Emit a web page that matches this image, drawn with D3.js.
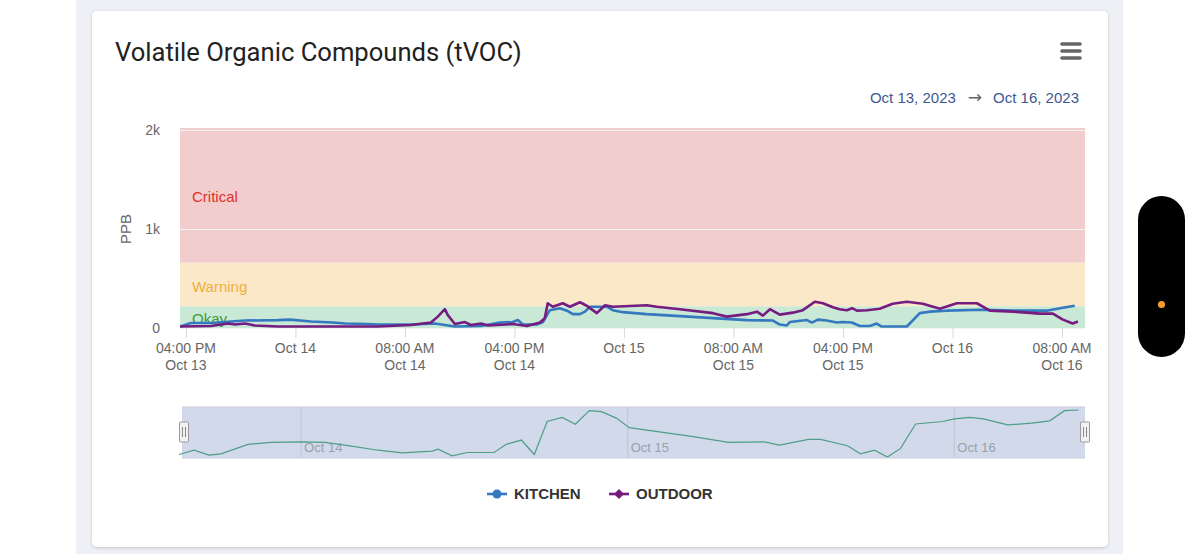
<!DOCTYPE html>
<html lang="en">
  <head>
    <meta charset="UTF-8" />
    <title>Volatile Organic Compounds (tVOC)</title>
    <script src="https://d3js.org/d3.v7.min.js"></script>
    <style>
      body {
        margin: 0;
        background: #fff;
        font-family: 'Liberation Sans', Arial, sans-serif;
      }
      svg {
        display: block;
      }
    </style>
  </head>
  <body>
    <div id="chart"></div>

    <script>
      // tVOC readings (ppb)
      const kitchen = [
        ['2023-10-13 15:34', 15], ['2023-10-13 16:22', 50], ['2023-10-13 17:50', 50],
        ['2023-10-13 20:19', 75], ['2023-10-13 22:43', 80], ['2023-10-13 23:36', 85],
        ['2023-10-14 01:08', 65], ['2023-10-14 02:44', 55], ['2023-10-14 03:37', 45],
        ['2023-10-14 05:13', 40], ['2023-10-14 06:01', 35], ['2023-10-14 08:26', 35],
        ['2023-10-14 10:11', 45], ['2023-10-14 10:55', 30], ['2023-10-14 11:39', 15],
        ['2023-10-14 13:33', 20], ['2023-10-14 14:56', 55], ['2023-10-14 15:53', 60],
        ['2023-10-14 16:15', 80], ['2023-10-14 16:37', 35], ['2023-10-14 17:38', 35],
        ['2023-10-14 18:05', 60], ['2023-10-14 18:35', 180], ['2023-10-14 19:19', 200],
        ['2023-10-14 19:50', 175], ['2023-10-14 20:16', 140], ['2023-10-14 20:47', 140],
        ['2023-10-14 21:09', 165], ['2023-10-14 21:31', 215], ['2023-10-14 22:45', 215],
        ['2023-10-14 23:11', 180], ['2023-10-14 23:55', 160], ['2023-10-15 01:40', 140],
        ['2023-10-15 04:05', 120], ['2023-10-15 06:30', 100], ['2023-10-15 08:59', 80],
        ['2023-10-15 10:53', 75], ['2023-10-15 11:23', 35], ['2023-10-15 11:54', 25],
        ['2023-10-15 12:07', 60], ['2023-10-15 13:22', 80], ['2023-10-15 13:44', 55],
        ['2023-10-15 14:10', 85], ['2023-10-15 14:49', 75], ['2023-10-15 15:33', 55],
        ['2023-10-15 16:00', 60], ['2023-10-15 16:39', 55], ['2023-10-15 17:14', 20],
        ['2023-10-15 17:58', 20], ['2023-10-15 18:28', 45], ['2023-10-15 18:50', 15],
        ['2023-10-15 20:40', 15], ['2023-10-15 21:37', 150], ['2023-10-15 22:21', 165],
        ['2023-10-15 23:35', 175], ['2023-10-16 02:00', 185], ['2023-10-16 04:25', 175],
        ['2023-10-16 06:53', 175], ['2023-10-16 08:04', 205], ['2023-10-16 08:56', 225]
      ];

      const outdoor = [
        ['2023-10-13 15:34', 15], ['2023-10-13 17:50', 20], ['2023-10-13 19:04', 45],
        ['2023-10-13 19:35', 35], ['2023-10-13 20:19', 45], ['2023-10-13 21:02', 25],
        ['2023-10-13 22:43', 15], ['2023-10-14 06:01', 15], ['2023-10-14 08:26', 30],
        ['2023-10-14 09:54', 55], ['2023-10-14 10:24', 115], ['2023-10-14 10:55', 190],
        ['2023-10-14 11:08', 130], ['2023-10-14 11:39', 40], ['2023-10-14 12:23', 60],
        ['2023-10-14 12:49', 30], ['2023-10-14 13:33', 45], ['2023-10-14 14:04', 25],
        ['2023-10-14 14:43', 30], ['2023-10-14 15:53', 40], ['2023-10-14 16:55', 20],
        ['2023-10-14 17:52', 55], ['2023-10-14 18:13', 100], ['2023-10-14 18:26', 250],
        ['2023-10-14 18:48', 215], ['2023-10-14 19:32', 250], ['2023-10-14 20:03', 215],
        ['2023-10-14 20:47', 260], ['2023-10-14 21:17', 225], ['2023-10-14 22:01', 150],
        ['2023-10-14 22:37', 230], ['2023-10-14 23:11', 215], ['2023-10-15 01:40', 230],
        ['2023-10-15 02:24', 215], ['2023-10-15 04:05', 190], ['2023-10-15 06:30', 150],
        ['2023-10-15 07:31', 115], ['2023-10-15 08:59', 140], ['2023-10-15 09:43', 165],
        ['2023-10-15 10:09', 125], ['2023-10-15 10:40', 190], ['2023-10-15 11:23', 135],
        ['2023-10-15 12:20', 155], ['2023-10-15 13:04', 180], ['2023-10-15 13:57', 265],
        ['2023-10-15 14:32', 250], ['2023-10-15 15:16', 210], ['2023-10-15 15:45', 190],
        ['2023-10-15 16:17', 180], ['2023-10-15 16:40', 200], ['2023-10-15 17:01', 175],
        ['2023-10-15 17:45', 180], ['2023-10-15 18:41', 195], ['2023-10-15 19:38', 245],
        ['2023-10-15 20:40', 265], ['2023-10-15 21:50', 245], ['2023-10-15 23:05', 195],
        ['2023-10-16 00:19', 250], ['2023-10-16 01:47', 250], ['2023-10-16 02:44', 175],
        ['2023-10-16 04:25', 165], ['2023-10-16 06:23', 145], ['2023-10-16 07:20', 145],
        ['2023-10-16 08:04', 85], ['2023-10-16 08:47', 45], ['2023-10-16 09:10', 65]
      ];

      // coarser series shown in the navigator strip
      const navigatorSeries = [
        ['2023-10-13 15:02', 27], ['2023-10-13 16:08', 46], ['2023-10-13 17:14', 24],
        ['2023-10-13 18:07', 30], ['2023-10-13 20:06', 72], ['2023-10-13 21:48', 81],
        ['2023-10-14 00:00', 83], ['2023-10-14 01:46', 81], ['2023-10-14 03:27', 66],
        ['2023-10-14 05:40', 46], ['2023-10-14 07:26', 34], ['2023-10-14 09:38', 42],
        ['2023-10-14 10:04', 51], ['2023-10-14 11:06', 21], ['2023-10-14 12:12', 36],
        ['2023-10-14 14:11', 36], ['2023-10-14 15:04', 72], ['2023-10-14 16:11', 91],
        ['2023-10-14 17:08', 27], ['2023-10-14 18:05', 173], ['2023-10-14 19:11', 191],
        ['2023-10-14 20:09', 161], ['2023-10-14 21:11', 221], ['2023-10-14 22:04', 217],
        ['2023-10-14 23:10', 188], ['2023-10-15 00:07', 146], ['2023-10-15 02:11', 128],
        ['2023-10-15 04:49', 106], ['2023-10-15 07:24', 81], ['2023-10-15 10:02', 83],
        ['2023-10-15 11:09', 69], ['2023-10-15 13:17', 94], ['2023-10-15 14:10', 94],
        ['2023-10-15 16:09', 66], ['2023-10-15 17:06', 30], ['2023-10-15 18:08', 46],
        ['2023-10-15 19:05', 16], ['2023-10-15 20:03', 54], ['2023-10-15 21:09', 162],
        ['2023-10-15 23:08', 173], ['2023-10-16 00:01', 185], ['2023-10-16 01:07', 191],
        ['2023-10-16 02:09', 185], ['2023-10-16 03:55', 158], ['2023-10-16 05:41', 166],
        ['2023-10-16 07:00', 176], ['2023-10-16 08:06', 221], ['2023-10-16 09:08', 224]
      ];

      // threshold bands (ppb)
      const bandNames = ['Okay', 'Warning', 'Critical'];
      const bandFrom = [0, 220, 660];
      const bandTo = [220, 660, 2200];
      const bandFill = ['#c9e8d6', '#fbe8c8', '#f2cdcd'];
      const bandText = ['#3f9a3f', '#efae3c', '#e0302c'];

      const yTicks = [0, 1000, 2000];
      const xTicks = [
        '2023-10-13 16:00', '2023-10-14 00:00', '2023-10-14 08:00',
        '2023-10-14 16:00', '2023-10-15 00:00', '2023-10-15 08:00',
        '2023-10-15 16:00', '2023-10-16 00:00', '2023-10-16 08:00'
      ];
      const navTicks = ['2023-10-14 00:00', '2023-10-15 00:00', '2023-10-16 00:00'];

      const parse = d3.timeParse('%Y-%m-%d %H:%M');

      const W = 1200, H = 554;
      const plot = { left: 180, right: 1085, top: 128, bottom: 328 };
      const nav = { left: 182, right: 1085, top: 407, bottom: 458 };

      const svg = d3.select('#chart').append('svg')
        .attr('width', W).attr('height', H);

      const defs = svg.append('defs');
      const shadow = defs.append('filter').attr('id', 'shadow')
        .attr('x', '-5%').attr('y', '-5%').attr('width', '110%').attr('height', '110%');
      shadow.append('feDropShadow').attr('dx', 0).attr('dy', 1)
        .attr('stdDeviation', 1.5).attr('flood-color', '#000').attr('flood-opacity', 0.18);

      // page background and card
      svg.append('rect').attr('x', 76).attr('y', 0).attr('width', 1047).attr('height', H)
        .attr('fill', '#eef0f5');
      svg.append('rect').attr('x', 92).attr('y', 11).attr('width', 1016).attr('height', 536)
        .attr('rx', 5).attr('fill', '#fff').attr('filter', 'url(#shadow)');

      // title, menu, date range
      svg.append('text').attr('x', 115).attr('y', 61)
        .style('font-family', 'Roboto, sans-serif').style('font-size', '25.6px')
        .attr('fill', '#222').text('Volatile Organic Compounds (tVOC)');

      [44, 51, 58].forEach(y => {
        svg.append('line').attr('x1', 1062).attr('x2', 1080).attr('y1', y).attr('y2', y)
          .attr('stroke', '#666').attr('stroke-width', 3.6).attr('stroke-linecap', 'round');
      });

      const range = svg.append('text').attr('x', 1079).attr('y', 103)
        .attr('text-anchor', 'end').style('font-size', '15px').attr('fill', '#3f5794');
      range.append('tspan').text('Oct 13, 2023');
      range.append('tspan').attr('fill', '#666').attr('dx', 12).style('font-size', '17px')
        .style('font-family', "'DejaVu Sans', sans-serif").text('→');
      range.append('tspan').attr('dx', 11).text('Oct 16, 2023');

      // scales
      const x = d3.scaleTime()
        .domain([parse('2023-10-13 15:34'), parse('2023-10-16 09:41')])
        .range([plot.left, plot.right]);
      const y = d3.scaleLinear().domain([0, 2020]).range([plot.bottom, plot.top]);

      defs.append('clipPath').attr('id', 'plotClip').append('rect')
        .attr('x', plot.left).attr('y', plot.top)
        .attr('width', plot.right - plot.left).attr('height', plot.bottom - plot.top);

      // bands
      const bands = svg.append('g').attr('clip-path', 'url(#plotClip)');
      bandNames.forEach((name, i) => {
        bands.append('rect')
          .attr('x', plot.left).attr('width', plot.right - plot.left)
          .attr('y', y(bandTo[i])).attr('height', y(bandFrom[i]) - y(bandTo[i]))
          .attr('fill', bandFill[i]);
      });

      // grid
      svg.append('g').selectAll('line').data(yTicks).join('line')
        .attr('x1', plot.left).attr('x2', plot.right)
        .attr('y1', d => y(d) + 0.5).attr('y2', d => y(d) + 0.5)
        .attr('stroke', '#f4f4f4').attr('stroke-width', 1);

      // band labels
      const labelY = [320, 288, 198];
      bandNames.forEach((name, i) => {
        svg.append('text').attr('x', 192).attr('y', labelY[i])
          .attr('dominant-baseline', 'middle').style('font-size', '15px')
          .attr('fill', bandText[i]).text(name);
      });

      // y axis
      const yAxis = svg.append('g').attr('transform', `translate(${plot.left},0)`)
        .call(d3.axisLeft(y).tickValues(yTicks).tickSize(0).tickPadding(20)
          .tickFormat(d => (d === 0 ? '0' : d / 1000 + 'k')));
      yAxis.select('.domain').remove();
      yAxis.selectAll('text').style('font-size', '14px').attr('fill', '#666')
        .style('font-family', "'Liberation Sans', Arial, sans-serif");

      svg.append('text')
        .attr('transform', `translate(131,${y(1000)}) rotate(-90)`)
        .attr('text-anchor', 'middle').style('font-size', '15px').attr('fill', '#666')
        .text('PPB');

      // x axis
      const tickDates = xTicks.map(parse);
      const xAxis = svg.append('g').attr('transform', `translate(0,${plot.bottom})`)
        .call(d3.axisBottom(x).tickValues(tickDates).tickSize(10).tickFormat(''));
      xAxis.select('.domain').remove();
      xAxis.selectAll('line').attr('stroke', '#d8d8d8');

      const fmtTime = d3.timeFormat('%I:%M %p');
      const fmtDay = d3.timeFormat('%b %d');
      const xLabels = svg.append('g').style('font-size', '14px').attr('fill', '#666')
        .attr('text-anchor', 'middle');
      tickDates.forEach(d => {
        const t = xLabels.append('text').attr('x', x(d)).attr('y', 353);
        const day = fmtDay(d).replace(' 0', ' ');
        if (d.getHours() === 0) {
          t.text(day);
        } else {
          t.append('tspan').attr('x', x(d)).text(fmtTime(d));
          t.append('tspan').attr('x', x(d)).attr('dy', 17).text(day);
        }
      });

      // series
      const line = d3.line()
        .x(d => x(parse(d[0])))
        .y(d => y(d[1]));

      const series = svg.append('g').attr('clip-path', 'url(#plotClip)');
      series.append('path').datum(kitchen).attr('d', line)
        .attr('fill', 'none').attr('stroke', '#3478bf').attr('stroke-width', 2.6)
        .attr('stroke-linejoin', 'round');
      series.append('path').datum(outdoor).attr('d', line)
        .attr('fill', 'none').attr('stroke', '#761b7f').attr('stroke-width', 2.6)
        .attr('stroke-linejoin', 'round');

      // navigator
      const nx = d3.scaleTime()
        .domain([parse('2023-10-13 15:15'), parse('2023-10-16 09:36')])
        .range([nav.left, nav.right]);
      const ny = d3.scaleLinear()
        .domain(d3.extent(navigatorSeries, d => d[1]))
        .range([nav.bottom - 1, nav.top + 3]);

      svg.append('rect').attr('x', nav.left).attr('y', nav.top)
        .attr('width', nav.right - nav.left).attr('height', nav.bottom - nav.top)
        .attr('fill', '#d2d9eb');

      const navTickDates = navTicks.map(parse);
      svg.append('g').selectAll('line').data(navTickDates).join('line')
        .attr('x1', d => nx(d)).attr('x2', d => nx(d))
        .attr('y1', nav.top).attr('y2', nav.bottom)
        .attr('stroke', '#bcc4d6');
      svg.append('g').selectAll('text').data(navTickDates).join('text')
        .attr('x', d => nx(d) + 3).attr('y', 452)
        .style('font-size', '13px').attr('fill', '#9aa0aa')
        .text(d => fmtDay(d));

      defs.append('clipPath').attr('id', 'navClip').append('rect')
        .attr('x', nav.left - 8).attr('y', nav.top)
        .attr('width', nav.right - nav.left + 8).attr('height', nav.bottom - nav.top);

      svg.append('path').datum(navigatorSeries)
        .attr('clip-path', 'url(#navClip)')
        .attr('d', d3.line().x(d => nx(parse(d[0]))).y(d => ny(d[1])))
        .attr('fill', 'none').attr('stroke', '#4f9e86').attr('stroke-width', 1.2);

      [nav.top, nav.bottom].forEach(yy => {
        svg.append('line').attr('x1', nav.left).attr('x2', nav.right)
          .attr('y1', yy).attr('y2', yy).attr('stroke', '#c8cdd8');
      });

      [nav.left + 2, nav.right].forEach(hx => {
        const h = svg.append('g').attr('transform', `translate(${hx},432)`);
        h.append('rect').attr('x', -4.5).attr('y', -10).attr('width', 9).attr('height', 20)
          .attr('rx', 1).attr('fill', '#f2f2f2').attr('stroke', '#999');
        [-1.5, 1.5].forEach(dx => {
          h.append('line').attr('x1', dx).attr('x2', dx).attr('y1', -5).attr('y2', 5)
            .attr('stroke', '#888');
        });
      });

      // legend
      const legend = svg.append('g').style('font-size', '15px').style('font-weight', 'bold')
        .attr('fill', '#333');
      const lk = legend.append('g').attr('transform', 'translate(487,494)');
      lk.append('line').attr('x1', 0).attr('x2', 20).attr('stroke', '#3478bf').attr('stroke-width', 2.6);
      lk.append('circle').attr('cx', 10).attr('r', 4.5).attr('fill', '#3478bf');
      lk.append('text').attr('x', 27).attr('dy', '0.35em').text('KITCHEN');

      const lo = legend.append('g').attr('transform', 'translate(609,494)');
      lo.append('line').attr('x1', 0).attr('x2', 20).attr('stroke', '#761b7f').attr('stroke-width', 2.6);
      lo.append('path').attr('d', 'M10,-5L15,0L10,5L5,0Z').attr('fill', '#761b7f');
      lo.append('text').attr('x', 27).attr('dy', '0.35em').text('OUTDOOR');

      // side pill
      svg.append('rect').attr('x', 1138).attr('y', 196).attr('width', 47).attr('height', 161)
        .attr('rx', 23.5).attr('fill', '#000');
      svg.append('circle').attr('cx', 1161.5).attr('cy', 304.5).attr('r', 3.6).attr('fill', '#f39a33');
    </script>
  </body>
</html>
